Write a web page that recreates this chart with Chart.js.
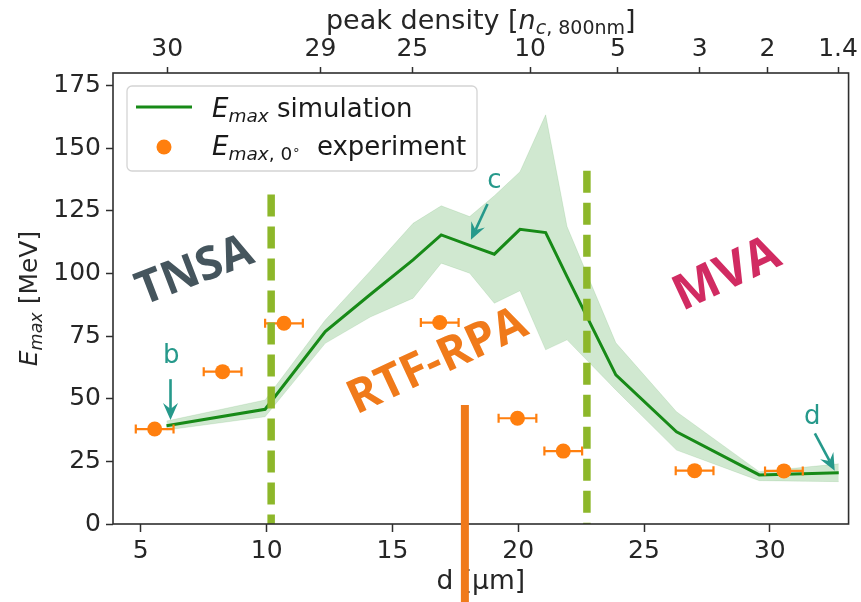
<!DOCTYPE html>
<html>
<head>
<meta charset="utf-8">
<script src="https://cdn.jsdelivr.net/npm/chart.js@4.4.1/dist/chart.umd.min.js"></script>
<style>
  html, body { margin: 0; padding: 0; background: #ffffff; }
  #wrap { width: 861px; height: 602px; }
</style>
</head>
<body>
<div id="wrap"><canvas id="c" width="861" height="602"></canvas></div>
<script>
// ---- simulation: target thickness d [µm] vs. maximum proton energy [MeV] ----
const simD     = [6.02, 9.94, 12.33, 14.12, 15.82, 16.94, 18.07, 19.05, 20.07, 21.09, 21.94, 23.88, 26.29, 29.58, 32.74];
const simE     = [39.2, 45.8, 76.8, 91.6, 105.4, 115.4, 111.2, 107.7, 117.6, 116.3, 98.7, 59.5, 36.8, 19.6, 20.5];
const simUpper = [41.1, 49.5, 81.4, 101.0, 120.0, 127.0, 122.7, 131.0, 140.6, 163.3, 118.7, 72.3, 44.8, 20.9, 24.0];
const simLower = [37.5, 42.8, 72.1, 82.6, 90.1, 104.1, 100.1, 88.1, 93.1, 69.5, 73.5, 53.5, 29.5, 17.3, 16.9];

// ---- experiment at 0° ----
const expD    = [5.55, 8.25, 10.69, 16.88, 19.97, 21.79, 27.01, 30.56];
const expE    = [37.9, 60.8, 80.1, 80.4, 42.2, 29.1, 21.3, 21.2];
const expDErr = [0.75, 0.75, 0.75, 0.75, 0.75, 0.75, 0.75, 0.75];

// ---- axes ----
const xTicks = [5, 10, 15, 20, 25, 30];
const yTicks = [0, 25, 50, 75, 100, 125, 150, 175];
const densityTickD      = [6.05, 12.14, 15.79, 20.47, 23.96, 27.21, 29.91, 32.71];
const densityTickLabels = ['30', '29', '25', '10', '5', '3', '2', '1.4'];

// ---- regime boundaries and markers ----
const regimeBoundaryD   = [10.18, 22.73];
const regimeBoundaryTop = [131.5, 141.0];
const rpaMarkerD   = 17.88;
const rpaMarkerTop = 47.5;

const FONT = '"DejaVu Sans", sans-serif';
const TICK_COLOR = '#262626';

function richWidth(ctx, parts) {
  let w = 0;
  for (const p of parts) { ctx.font = p.font; w += ctx.measureText(p.text).width; }
  return w;
}
function drawRich(ctx, parts, x, y) {
  let cx = x;
  for (const p of parts) {
    ctx.font = p.font;
    ctx.fillText(p.text, cx, y + (p.dy || 0));
    cx += ctx.measureText(p.text).width;
  }
}

function drawArrow(ctx, x1, y1, x2, y2, color) {
  const ang = Math.atan2(y2 - y1, x2 - x1);
  const headLen = 17, headHalf = 7.5, notch = 11;
  const cos = Math.cos(ang), sin = Math.sin(ang);
  ctx.save();
  ctx.strokeStyle = color; ctx.fillStyle = color;
  ctx.lineWidth = 2.6;
  ctx.beginPath();
  ctx.moveTo(x1, y1);
  ctx.lineTo(x2 - cos * notch, y2 - sin * notch);
  ctx.stroke();
  ctx.beginPath();
  ctx.moveTo(x2, y2);
  ctx.lineTo(x2 - cos * headLen - sin * headHalf, y2 - sin * headLen + cos * headHalf);
  ctx.lineTo(x2 - cos * notch, y2 - sin * notch);
  ctx.lineTo(x2 - cos * headLen + sin * headHalf, y2 - sin * headLen - cos * headHalf);
  ctx.closePath();
  ctx.fill();
  ctx.restore();
}

// horizontal error bars of the measured points
const errorBarPlugin = {
  id: 'errorBars',
  beforeDatasetDraw(chart, args) {
    if (args.index !== 0) return;
    const ctx = chart.ctx, xs = chart.scales.x, ys = chart.scales.y;
    ctx.save();
    ctx.strokeStyle = '#ff7f0e';
    ctx.lineWidth = 2.2;
    for (let i = 0; i < expD.length; i++) {
      const y = ys.getPixelForValue(expE[i]);
      const xa = xs.getPixelForValue(expD[i] - expDErr[i]);
      const xb = xs.getPixelForValue(expD[i] + expDErr[i]);
      ctx.beginPath();
      ctx.moveTo(xa, y); ctx.lineTo(xb, y);
      ctx.moveTo(xa, y - 4.5); ctx.lineTo(xa, y + 4.5);
      ctx.moveTo(xb, y - 4.5); ctx.lineTo(xb, y + 4.5);
      ctx.stroke();
    }
    ctx.restore();
  }
};

// regime boundaries, annotations, legend, frame and axis titles
const decorPlugin = {
  id: 'decor',
  afterDatasetsDraw(chart) {
    const ctx = chart.ctx, xs = chart.scales.x, ys = chart.scales.y, ca = chart.chartArea;

    // dashed regime boundaries
    ctx.save();
    ctx.strokeStyle = '#8db72a';
    ctx.lineWidth = 7.5;
    ctx.setLineDash([22, 10]);
    regimeBoundaryD.forEach((d, i) => {
      const x = xs.getPixelForValue(d);
      ctx.beginPath();
      ctx.moveTo(x, ys.getPixelForValue(regimeBoundaryTop[i]));
      ctx.lineTo(x, ys.getPixelForValue(0));
      ctx.stroke();
    });
    ctx.restore();

    // regime names
    const regimes = [
      { text: 'TNSA',    d: 7.15,  e: 100.8, angle: -21, color: '#45555d', size: 46 },
      { text: 'RTF-RPA', d: 16.80, e: 64.7,  angle: -25, color: '#f07a1a', size: 47 },
      { text: 'MVA',     d: 28.30, e: 99.4,  angle: -25, color: '#d12b62', size: 49 }
    ];
    for (const r of regimes) {
      ctx.save();
      ctx.translate(xs.getPixelForValue(r.d), ys.getPixelForValue(r.e));
      ctx.rotate(r.angle * Math.PI / 180);
      ctx.font = `bold ${r.size}px "Open Sans", sans-serif`;
      ctx.fillStyle = r.color;
      ctx.textAlign = 'center';
      ctx.textBaseline = 'middle';
      ctx.fillText(r.text, 0, 0);
      ctx.restore();
    }

    // pointers to selected simulation cases
    const teal = '#26998b';
    const pointers = [
      { label: 'b', d: 6.21,  e: 66.8,  from: [6.18, 57.8],  to: [6.18, 41.5] },
      { label: 'c', d: 19.05, e: 136.6, from: [18.78, 127.7], to: [18.12, 113.4] },
      { label: 'd', d: 31.69, e: 42.6,  from: [31.79, 36.2],  to: [32.58, 21.3] }
    ];
    ctx.save();
    ctx.fillStyle = teal;
    ctx.font = `26px ${FONT}`;
    ctx.textAlign = 'center';
    ctx.textBaseline = 'middle';
    for (const p of pointers) {
      ctx.fillText(p.label, xs.getPixelForValue(p.d), ys.getPixelForValue(p.e));
      drawArrow(ctx,
        xs.getPixelForValue(p.from[0]), ys.getPixelForValue(p.from[1]),
        xs.getPixelForValue(p.to[0]), ys.getPixelForValue(p.to[1]), teal);
    }
    ctx.restore();

    // legend
    const lx = ca.left + 14, ly = ca.top + 13, lw = 350, lh = 85;
    ctx.save();
    ctx.fillStyle = 'rgba(255,255,255,0.85)';
    ctx.strokeStyle = '#d4d4d4';
    ctx.lineWidth = 1.3;
    ctx.beginPath();
    ctx.roundRect(lx, ly, lw, lh, 5);
    ctx.fill();
    ctx.stroke();
    ctx.strokeStyle = '#178a17';
    ctx.lineWidth = 3;
    ctx.beginPath();
    ctx.moveTo(lx + 9, ly + 21); ctx.lineTo(lx + 65, ly + 21);
    ctx.stroke();
    ctx.fillStyle = '#ff7f0e';
    ctx.beginPath();
    ctx.arc(lx + 37, ly + 61, 7.5, 0, Math.PI * 2);
    ctx.fill();
    ctx.fillStyle = '#1a1a1a';
    ctx.textBaseline = 'alphabetic';
    ctx.textAlign = 'left';
    const big = `26px ${FONT}`, bigI = `italic 26px ${FONT}`;
    const sub = `18.5px ${FONT}`, subI = `italic 18.5px ${FONT}`;
    drawRich(ctx, [
      { text: 'E', font: bigI },
      { text: 'max', font: subI, dy: 4.5 },
      { text: ' simulation', font: big }
    ], lx + 85, ly + 31);
    drawRich(ctx, [
      { text: 'E', font: bigI },
      { text: 'max', font: subI, dy: 4.5 },
      { text: ', 0', font: sub, dy: 4.5 },
      { text: '\u2218', font: `13px ${FONT}`, dy: -1 },
      { text: '  experiment', font: big }
    ], lx + 85, ly + 69);
    ctx.restore();

    // frame
    ctx.save();
    ctx.strokeStyle = '#2e2e2e';
    ctx.lineWidth = 1.6;
    ctx.strokeRect(ca.left, ca.top, ca.right - ca.left, ca.bottom - ca.top);
    ctx.restore();
  },
  afterDraw(chart) {
    const ctx = chart.ctx, xs = chart.scales.x, ys = chart.scales.y, ca = chart.chartArea;
    const cx = (ca.left + ca.right) / 2, cy = (ca.top + ca.bottom) / 2;
    const big = `25px ${FONT}`, bigI = `italic 25px ${FONT}`;
    const sub = `17.5px ${FONT}`, subI = `italic 17.5px ${FONT}`;
    ctx.save();
    ctx.fillStyle = TICK_COLOR;
    ctx.textBaseline = 'alphabetic';
    ctx.textAlign = 'left';

    // top axis title
    const topParts = [
      { text: 'peak density [', font: `27px ${FONT}` },
      { text: 'n', font: `italic 27px ${FONT}` },
      { text: 'c', font: `italic 19px ${FONT}`, dy: 5 },
      { text: ', 800nm', font: `19px ${FONT}`, dy: 5 },
      { text: ']', font: `27px ${FONT}` }
    ];
    drawRich(ctx, topParts, cx - richWidth(ctx, topParts) / 2, 28.5);

    // bottom axis title
    const botParts = [{ text: 'd [µm]', font: `26.5px ${FONT}` }];
    drawRich(ctx, botParts, cx - richWidth(ctx, botParts) / 2, 589);

    // left axis title
    const yParts = [
      { text: 'E', font: bigI },
      { text: 'max', font: subI, dy: 4.5 },
      { text: ' [MeV]', font: big }
    ];
    ctx.translate(37, cy);
    ctx.rotate(-Math.PI / 2);
    drawRich(ctx, yParts, -richWidth(ctx, yParts) / 2, 0);
    ctx.restore();

    // marker of the RPA optimum, reaching below the axis
    ctx.save();
    ctx.strokeStyle = '#f07a1a';
    ctx.lineWidth = 8;
    const mx = xs.getPixelForValue(rpaMarkerD);
    ctx.beginPath();
    ctx.moveTo(mx, ys.getPixelForValue(rpaMarkerTop));
    ctx.lineTo(mx, chart.height);
    ctx.stroke();
    ctx.restore();
  }
};

const tickFont = { family: FONT, size: 25 };
const tickGrid = { drawOnChartArea: false, drawTicks: true, tickLength: 7, tickColor: '#2e2e2e', tickWidth: 1.5 };

new Chart(document.getElementById('c'), {
  type: 'line',
  data: {
    datasets: [
      {
        label: 'experiment',
        data: expD.map((d, i) => ({ x: d, y: expE[i] })),
        showLine: false,
        pointRadius: 7.5,
        pointBackgroundColor: '#ff7f0e',
        pointBorderWidth: 0,
        order: 0
      },
      {
        label: 'simulation',
        data: simD.map((d, i) => ({ x: d, y: simE[i] })),
        borderColor: '#178a17',
        borderWidth: 3,
        pointRadius: 0,
        fill: false,
        tension: 0,
        order: 1
      },
      {
        label: 'upper',
        data: simD.map((d, i) => ({ x: d, y: simUpper[i] })),
        borderColor: 'rgba(0,128,0,0.10)',
        borderWidth: 1,
        backgroundColor: 'rgba(0,128,0,0.185)',
        pointRadius: 0,
        fill: '+1',
        tension: 0,
        order: 2
      },
      {
        label: 'lower',
        data: simD.map((d, i) => ({ x: d, y: simLower[i] })),
        borderColor: 'rgba(0,128,0,0.10)',
        borderWidth: 1,
        pointRadius: 0,
        fill: false,
        tension: 0,
        order: 3
      }
    ]
  },
  options: {
    responsive: false,
    animation: false,
    devicePixelRatio: 1,
    events: [],
    layout: { padding: { right: 8, top: 0, left: 0, bottom: 0 } },
    plugins: { legend: { display: false }, tooltip: { enabled: false } },
    scales: {
      x: {
        type: 'linear', position: 'bottom', min: 3.894, max: 33.13,
        afterBuildTicks: s => { s.ticks = xTicks.map(v => ({ value: v })); },
        afterFit: s => { s.height = 78; },
        grid: Object.assign({}, tickGrid, { tickLength: 8 }),
        border: { display: false },
        ticks: { font: tickFont, color: TICK_COLOR, padding: 4, maxRotation: 0, autoSkip: false }
      },
      x2: {
        type: 'linear', position: 'top', min: 3.894, max: 33.13,
        afterBuildTicks: s => { s.ticks = densityTickD.map(v => ({ value: v })); },
        afterFit: s => { s.height = 73; },
        grid: Object.assign({}, tickGrid, { tickLength: 6 }),
        border: { display: false },
        ticks: {
          font: tickFont, color: TICK_COLOR, padding: 3, maxRotation: 0, autoSkip: false,
          callback: (v, i) => densityTickLabels[i]
        }
      },
      y: {
        type: 'linear', min: 0, max: 180,
        afterBuildTicks: s => { s.ticks = yTicks.map(v => ({ value: v })); },
        afterFit: s => { s.width = 113; },
        grid: tickGrid,
        border: { display: false },
        ticks: { font: tickFont, color: TICK_COLOR, padding: 5 }
      }
    }
  },
  plugins: [errorBarPlugin, decorPlugin]
});
</script>
</body>
</html>
